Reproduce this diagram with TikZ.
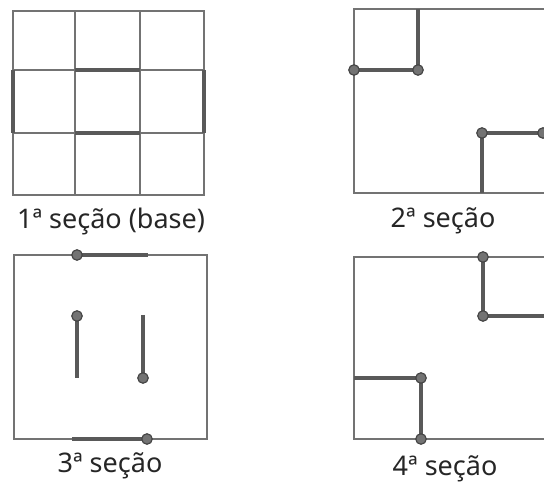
\documentclass[tikz,border=0pt]{standalone}
\usepackage{fontspec}
\setmainfont{Noto Sans}
\begin{document}
\begin{tikzpicture}[x=1pt,y=-1pt,
  gridline/.style={draw=black!55,line width=1.2pt},
  boldline/.style={draw=black!65,line width=3.4pt},
  dot/.style={circle,fill=black!55,draw=black!72,line width=1.2pt,inner sep=0pt,minimum size=10.5pt},
  lbl/.style={font=\fontsize{27}{32}\selectfont,text=black!85}]
\useasboundingbox (0,0) rectangle (544,486);
\begin{scope}
\clip (0,0) rectangle (544,486);
% Panel 1
\draw[gridline] (13,11) rectangle (204,195);
\draw[gridline] (75,11) -- (75,195) (140,11) -- (140,195);
\draw[gridline] (13,70) -- (204,70) (13,133) -- (204,133);
\draw[boldline] (75,70) -- (140,70);
\draw[boldline] (75,133) -- (140,133);
\draw[boldline] (13,70) -- (13,133);
\draw[boldline] (204,70) -- (204,133);
\node[lbl] (l1) at (111,221) {1ª seção (base)};
% Panel 2
\draw[gridline] (548,9) -- (354,9) -- (354,193) -- (548,193);
\draw[boldline] (418,9) -- (418,70) -- (354,70);
\draw[boldline] (482,193) -- (482,133) -- (543,133);
\node[dot] at (354,70) {};
\node[dot] at (418,70) {};
\node[dot] at (482,133) {};
\node[dot] at (543,133) {};
\node[lbl] (l2) at (443,221) {2ª seção};
% Panel 3
\draw[gridline] (14,255) rectangle (207,439);
\draw[boldline] (77,255) -- (148,255);
\draw[boldline] (72,439) -- (147,439);
\draw[boldline] (77,316) -- (77,378);
\draw[boldline] (143,315) -- (143,378);
\node[dot] at (77,255) {};
\node[dot] at (147,439) {};
\node[dot] at (77,316) {};
\node[dot] at (143,378) {};
\node[lbl] (l3) at (110,466) {3ª seção};
% Panel 4
\draw[gridline] (548,257) -- (354,257) -- (354,439) -- (548,439);
\draw[boldline] (483,257) -- (483,316) -- (548,316);
\draw[boldline] (354,378) -- (421,378) -- (421,439);
\node[dot] at (483,257) {};
\node[dot] at (483,316) {};
\node[dot] at (421,378) {};
\node[dot] at (421,439) {};
\node[lbl] (l4) at (445,469) {4ª seção};
\end{scope}
\end{tikzpicture}
\end{document}
